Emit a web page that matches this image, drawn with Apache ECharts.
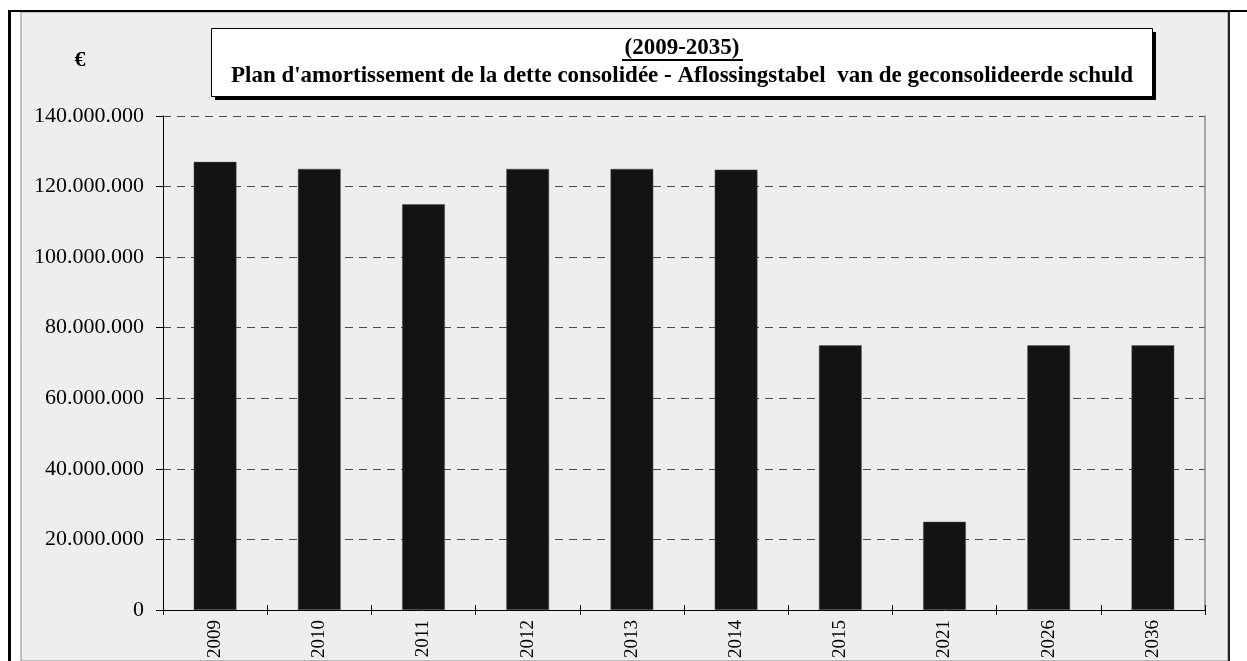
<!DOCTYPE html>
<html>
<head>
<meta charset="utf-8">
<script src="https://cdn.jsdelivr.net/npm/echarts@6/dist/echarts.min.js"></script>
<style>
  html, body { margin: 0; padding: 0; background: #fff; }
  #chart { width: 1247px; height: 661px; }
</style>
</head>
<body>
<div id="chart"></div>
<script>
// data
const years = ['2009', '2010', '2011', '2012', '2013', '2014', '2015', '2021', '2026', '2036']
const amounts = [127000000, 125000000, 115000000, 125000000, 125000000, 124800000, 75000000, 25000000, 75000000, 75000000]
const titleLine1 = '(2009-2035)'
const titleLine2 = 'Plan d\'amortissement de la dette consolidée - Aflossingstabel  van de geconsolideerde schuld'
const unitLabel = '€'

const serif = '"Liberation Serif", "DejaVu Serif", serif'

// 140000000 -> 140.000.000
function fmt(v) {
  return String(v).replace(/\B(?=(\d{3})+(?!\d))/g, '.')
}

const chart = echarts.init(document.getElementById('chart'), null, { renderer: 'canvas' })

chart.setOption({
  backgroundColor: '#fff',
  animation: false,
  textStyle: { fontFamily: serif },
  graphic: [
    // grey sheet behind the chart
    { type: 'rect', z: -10, shape: { x: 21, y: 12, width: 1207, height: 649 }, style: { fill: '#eeeeee', stroke: '#8a8a8a', lineWidth: 1 } },
    // outer frame
    { type: 'line', z: -5, shape: { x1: 8, y1: 11, x2: 1247, y2: 11 }, style: { stroke: '#000', lineWidth: 2 } },
    { type: 'line', z: -5, shape: { x1: 9.5, y1: 10, x2: 9.5, y2: 661 }, style: { stroke: '#000', lineWidth: 3 } },
    { type: 'line', z: -5, shape: { x1: 1229, y1: 10, x2: 1229, y2: 661 }, style: { stroke: '#222', lineWidth: 2 } },
    // title box with shadow
    { type: 'rect', z: 10, shape: { x: 215, y: 32, width: 941, height: 68 }, style: { fill: '#000' } },
    { type: 'rect', z: 11, shape: { x: 211.5, y: 28.5, width: 941, height: 68 }, style: { fill: '#fff', stroke: '#000', lineWidth: 1 } },
    {
      type: 'text', z: 12, x: 682, y: 48,
      style: { text: titleLine1, fontFamily: serif, fontWeight: 'bold', fontSize: 23, fill: '#000', textAlign: 'center', textVerticalAlign: 'middle' }
    },
    { type: 'line', z: 12, shape: { x1: 622, y1: 60, x2: 743, y2: 60 }, style: { stroke: '#000', lineWidth: 2 } },
    {
      type: 'text', z: 12, x: 682, y: 76,
      style: { text: titleLine2, fontFamily: serif, fontWeight: 'bold', fontSize: 23, fill: '#000', textAlign: 'center', textVerticalAlign: 'middle' }
    },
    {
      type: 'text', z: 12, x: 80, y: 60,
      style: { text: unitLabel, fontFamily: serif, fontWeight: 'bold', fontSize: 22, fill: '#000', textAlign: 'center', textVerticalAlign: 'middle' }
    }
  ],
  grid: {
    left: 163,
    right: 42,
    top: 116,
    bottom: 49,
    containLabel: false
  },
  xAxis: [{
    type: 'category',
    data: years,
    axisLine: { lineStyle: { color: '#000', width: 1 } },
    axisTick: { show: true, length: 5, lineStyle: { color: '#000' } },
    axisLabel: { rotate: 90, margin: 10, fontSize: 19, color: '#000', fontFamily: serif }
  }, {
    type: 'category',
    data: years,
    position: 'bottom',
    axisLine: { show: false },
    axisTick: { show: true, inside: true, length: 5, lineStyle: { color: '#000' } },
    axisLabel: { show: false }
  }],
  yAxis: [{
    type: 'value',
    min: 0,
    max: 140000000,
    interval: 20000000,
    axisLine: { show: true, lineStyle: { color: '#000', width: 1 } },
    axisTick: { show: true, length: 7, lineStyle: { color: '#000' } },
    axisLabel: { margin: 19, fontSize: 22, color: '#000', fontFamily: serif, formatter: fmt },
    splitLine: { show: true, lineStyle: { color: '#4a4a4a', type: [8, 6], width: 1 } }
  }, {
    type: 'value',
    min: 0,
    max: 140000000,
    interval: 20000000,
    position: 'right',
    axisLine: { show: true, lineStyle: { color: '#8c8c8c', width: 1.5 } },
    axisTick: { show: false },
    axisLabel: { show: false },
    splitLine: { show: false }
  }],
  series: [{
    type: 'bar',
    data: amounts,
    barWidth: '41%',
    itemStyle: { color: '#131313', borderColor: '#555', borderWidth: 0.5 }
  }]
})
</script>
</body>
</html>
